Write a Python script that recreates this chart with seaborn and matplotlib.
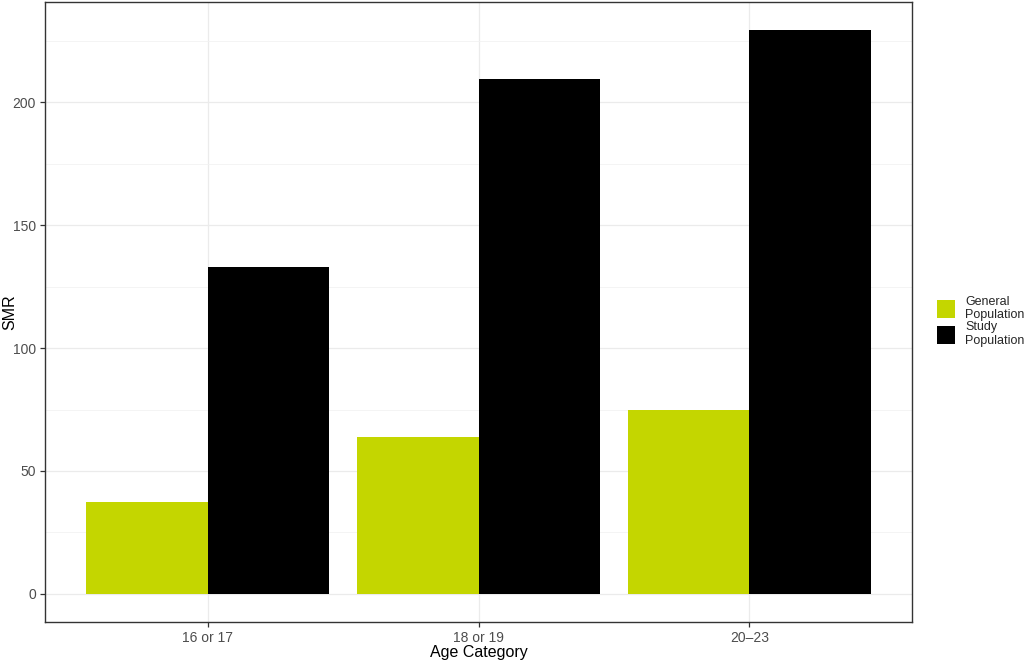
import pandas as pd
import matplotlib.pyplot as plt
import seaborn as sns
from matplotlib.ticker import MultipleLocator

# data
age_categories = ['16 or 17', '18 or 19', '20\u201323']
general_population = [37.2, 63.8, 74.9]
study_population = [133.2, 209.6, 229.4]
group_labels = ['General\nPopulation', 'Study\nPopulation']

df = pd.DataFrame({
    'Age Category': age_categories * 2,
    'SMR': general_population + study_population,
    'group': [group_labels[0]] * 3 + [group_labels[1]] * 3,
})

sns.set_theme(style='white')
plt.rcParams['font.family'] = ['Liberation Sans', 'DejaVu Sans']

fig = plt.figure(figsize=(10.24, 6.6), dpi=100)
ax = fig.add_axes([45 / 1024, 1 - 622 / 660, (912 - 45) / 1024, 620 / 660])

sns.barplot(data=df, x='Age Category', y='SMR', hue='group',
            order=age_categories, hue_order=group_labels,
            palette=['#C4D600', '#000000'], width=0.9, gap=0,
            edgecolor='none', linewidth=0, saturation=1, ax=ax)

ax.set_xlim(-0.6, 2.6)
ymax = max(study_population)
ax.set_ylim(-0.05 * ymax, ymax * 1.05)

# ggplot theme_bw style grid
ax.yaxis.set_major_locator(MultipleLocator(50))
ax.yaxis.set_minor_locator(MultipleLocator(25))
ax.set_axisbelow(True)
ax.grid(True, which='major', color='#EBEBEB', linewidth=0.9)
ax.grid(True, which='minor', axis='y', color='#F2F2F2', linewidth=0.6)
for s in ax.spines.values():
    s.set_color('#333333')
    s.set_linewidth(1.0)

ax.tick_params(axis='both', which='major', length=3.5, width=0.9,
               color='#333333', labelcolor='#4D4D4D', labelsize=10,
               left=True, bottom=True, pad=3)
ax.tick_params(axis='y', which='minor', length=0)

ax.set_xlabel('Age Category', fontsize=11.5, color='black')
ax.set_ylabel('SMR', fontsize=11.5, color='black')
ax.xaxis.set_label_coords(0.5, (622 - 652) / 620)
ax.xaxis.label.set_va('center')
ax.yaxis.set_label_coords((10 - 45) / 867, 0.5)
ax.yaxis.label.set_va('center')

ax.get_legend().remove()
handles, labels = ax.get_legend_handles_labels()
fig.legend(handles, labels, loc='center left', bbox_to_anchor=(0.905, 0.513),
           frameon=False, fontsize=9, handlelength=1.5, handleheight=1.8,
           handletextpad=0.8, labelspacing=0.0, borderpad=0.3)

plt.savefig('out.png', dpi=100)
plt.close()
